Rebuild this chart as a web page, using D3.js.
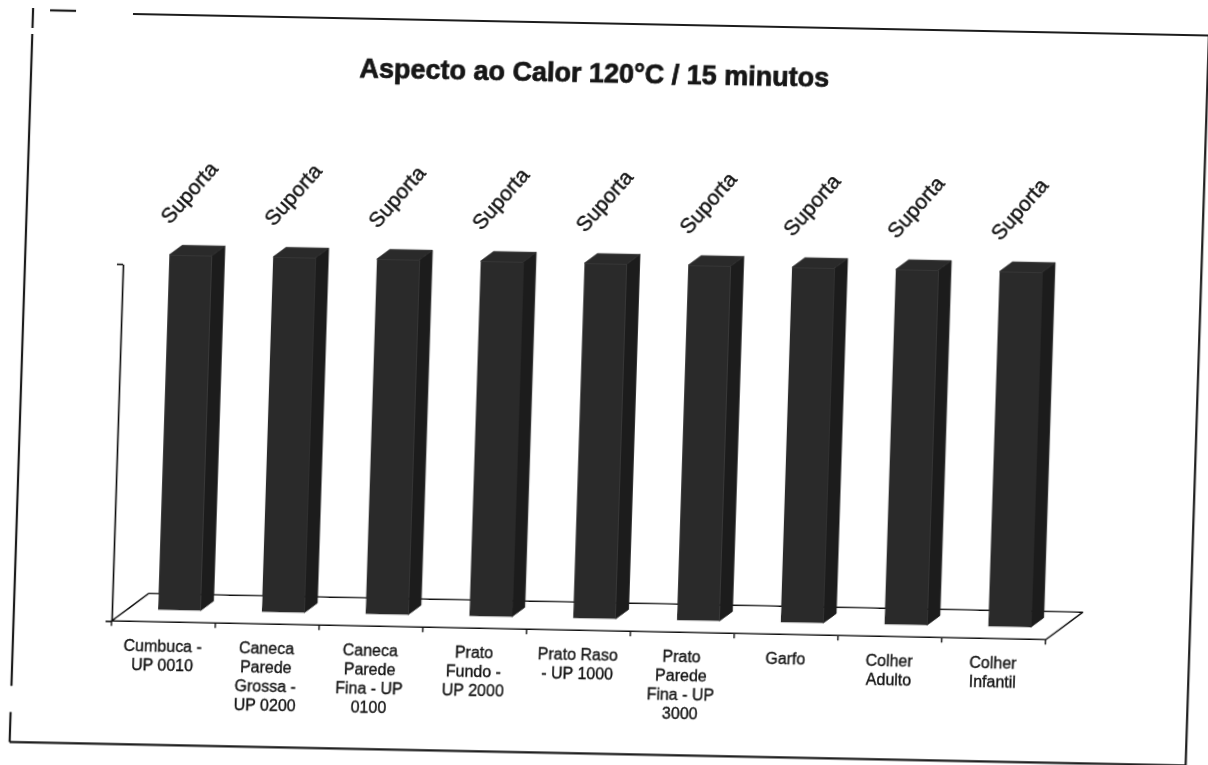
<!DOCTYPE html>
<html>
<head>
<meta charset="utf-8">
<script src="https://cdn.jsdelivr.net/npm/d3@7/dist/d3.min.js"></script>
<style>
  html, body { margin: 0; padding: 0; background: #fff; }
  svg { display: block; }
  text { font-family: "Liberation Sans", Arial, sans-serif; fill: #141414; }
</style>
</head>
<body>
<svg id="chart" width="1208" height="765"></svg>
<script>
// Heat resistance test: every item held up at 120 °C for 15 minutes
const chartTitle = "Aspecto ao Calor 120°C / 15 minutos";
const categories = [
  "Cumbuca - UP 0010",
  "Caneca Parede Grossa - UP 0200",
  "Caneca Parede Fina - UP 0100",
  "Prato Fundo - UP 2000",
  "Prato Raso - UP 1000",
  "Prato Parede Fina - UP 3000",
  "Garfo",
  "Colher Adulto",
  "Colher Infantil"
];
// 1 = supports the heat
const values = [1, 1, 1, 1, 1, 1, 1, 1, 1];
const results = ["Suporta", "Suporta", "Suporta", "Suporta", "Suporta",
                 "Suporta", "Suporta", "Suporta", "Suporta"];
const valueTicks = [0, 1];

const svg = d3.select("#chart");
svg.append("rect").attr("width", 1208).attr("height", 765).attr("fill", "#fff");

const defs = svg.append("defs");
defs.append("filter").attr("id", "soft")
  .append("feGaussianBlur").attr("stdDeviation", 0.55);

// printed page sits slightly skewed on the sheet
const g = svg.append("g")
  .attr("transform", "matrix(1,0.02,-0.032,1,0.38,-0.66)")
  .attr("filter", "url(#soft)");

// outer frame (broken where the print faded)
const frame = { left: 33, right: 1209, top: 12, bottom: 742 };
const frameSegs = [
  [[50, frame.top - 2], [76, frame.top - 2]],
  [[133, frame.top], [frame.right, frame.top]],
  [[frame.left, 8], [frame.left, 28]],
  [[frame.left, 34], [frame.left, 686]],
  [[frame.left, 712], [frame.left, frame.bottom]],
  [[frame.left, frame.bottom], [frame.right, frame.bottom]],
  [[frame.right, frame.top], [frame.right, frame.bottom]]
];
g.append("g").selectAll("line").data(frameSegs).join("line")
  .attr("x1", d => d[0][0]).attr("y1", d => d[0][1])
  .attr("x2", d => d[1][0]).attr("y2", d => d[1][1])
  .attr("stroke", "#1a1a1a").attr("stroke-width", 2.2);

// title
g.append("text")
  .attr("x", 596).attr("y", 62)
  .attr("text-anchor", "middle").attr("dominant-baseline", "central")
  .attr("font-size", 27).attr("font-weight", "bold")
  .attr("stroke", "#141414").attr("stroke-width", 0.7)
  .text(chartTitle);

// 3D floor geometry
const floorFront = 619;
const depth = { dx: 36, dy: -28 };
const x = d3.scaleBand().domain(categories).range([131, 1065]).padding(0);
const h = d3.scaleLinear().domain([0, 1]).range([0, 355]);
const y = d3.scaleLinear().domain([0, 1]).range([floorFront, floorFront - h(1) - 2]);

const x0 = x.range()[0], x1 = x.range()[1];
const floorPts = [
  [x0, floorFront], [x1, floorFront],
  [x1 + depth.dx, floorFront + depth.dy], [x0 + depth.dx, floorFront + depth.dy]
];
g.append("polygon")
  .attr("points", floorPts.map(p => p.join(",")).join(" "))
  .attr("fill", "#fff").attr("stroke", "#111").attr("stroke-width", 1.6)
  .attr("stroke-linejoin", "round");

// category tick marks along the front edge of the floor
const boundaries = d3.range(categories.length + 1).map(i => x0 + i * x.step());
g.append("g").selectAll("line").data(boundaries).join("line")
  .attr("x1", d => d).attr("x2", d => d)
  .attr("y1", floorFront).attr("y2", floorFront + 5)
  .attr("stroke", "#111").attr("stroke-width", 1.4);

// value axis at the front-left corner
const yAxis = d3.axisLeft(y).tickValues(valueTicks).tickFormat(() => "")
  .tickSize(6).tickSizeOuter(0);
const ya = g.append("g").attr("transform", `translate(${x0},0)`).call(yAxis);
ya.selectAll("path, line").attr("stroke", "#111").attr("stroke-width", 1.6);

// columns
const depthStart = 0.43, depthEnd = 0.78, widthFrac = 0.41;
const off = { dx: depth.dx * depthStart, dy: depth.dy * depthStart };
const bd = { dx: depth.dx * (depthEnd - depthStart), dy: depth.dy * (depthEnd - depthStart) };
const bw = x.bandwidth() * widthFrac;

const bars = categories.map((c, i) => {
  const cx = x(c) + x.bandwidth() / 2 + off.dx;
  const l = cx - bw / 2, r = cx + bw / 2;
  const b = floorFront + off.dy;
  const t = b - h(values[i]);
  return { c, i, l, r, b, t, cx };
});

const cols = g.append("g").selectAll("g").data(bars).join("g");
// side face
cols.append("polygon")
  .attr("points", d => [[d.r, d.b], [d.r + bd.dx, d.b + bd.dy], [d.r + bd.dx, d.t + bd.dy], [d.r, d.t]]
    .map(p => p.join(",")).join(" "))
  .attr("fill", "#1f1f1f").attr("stroke", "#1f1f1f").attr("stroke-width", 0.8);
// top face
cols.append("polygon")
  .attr("points", d => [[d.l, d.t], [d.r, d.t], [d.r + bd.dx, d.t + bd.dy], [d.l + bd.dx, d.t + bd.dy]]
    .map(p => p.join(",")).join(" "))
  .attr("fill", "#2a2a2a").attr("stroke", "#2a2a2a").attr("stroke-width", 0.8);
// front face
cols.append("rect")
  .attr("x", d => d.l).attr("y", d => d.t)
  .attr("width", bw).attr("height", d => d.b - d.t)
  .attr("fill", "#2c2c2c");

// rotated result labels above the columns
g.append("g").selectAll("text").data(bars).join("text")
  .attr("transform", d => `translate(${d.cx + bd.dx / 2 - 10},${d.t + bd.dy / 2 - 58}) rotate(-50)`)
  .attr("text-anchor", "middle").attr("dominant-baseline", "central")
  .attr("font-size", 21)
  .attr("stroke", "#141414").attr("stroke-width", 0.4)
  .text(d => results[d.i]);

// wrapped category labels
const labelSize = 16, lineH = 19, maxW = 81;
const labels = g.append("g").selectAll("text").data(categories).join("text")
  .attr("text-anchor", "middle")
  .attr("font-size", labelSize)
  .attr("stroke", "#141414").attr("stroke-width", 0.35)
  .attr("y", floorFront + 30);

labels.each(function (c) {
  const t = d3.select(this);
  const cx = x(c) + x.bandwidth() / 2;
  const words = c.split(" ");
  const lines = [];
  let cur = [];
  const probe = t.append("tspan");
  words.forEach(w => {
    const test = cur.concat([w]).join(" ");
    probe.text(test);
    if (cur.length && probe.node().getComputedTextLength() > maxW) {
      lines.push(cur.join(" "));
      cur = [w];
    } else {
      cur.push(w);
    }
  });
  if (cur.length) lines.push(cur.join(" "));
  probe.remove();
  lines.forEach((ln, k) => {
    t.append("tspan").attr("x", cx).attr("dy", k === 0 ? 0 : lineH).text(ln);
  });
});
</script>
</body>
</html>
